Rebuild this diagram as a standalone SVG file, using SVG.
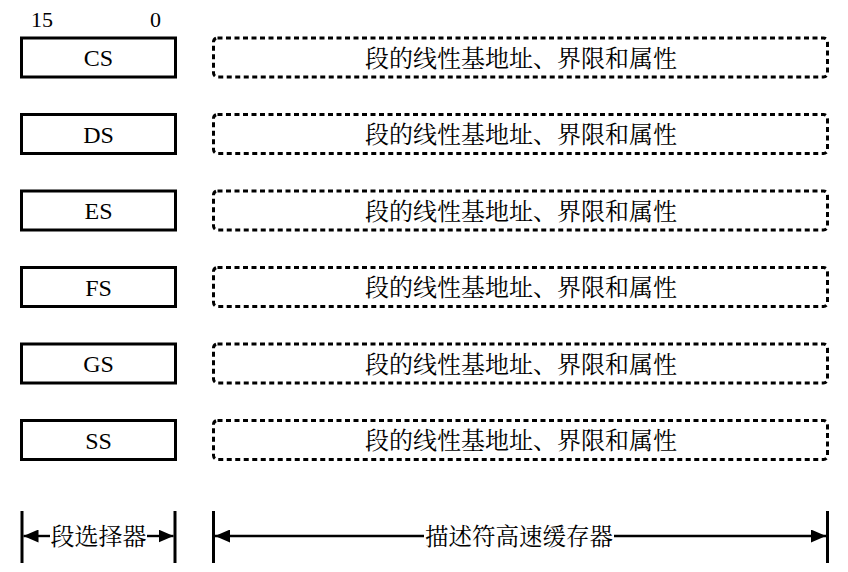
<svg xmlns="http://www.w3.org/2000/svg" width="848" height="572" viewBox="0 0 848 572">
<style>
.reg{fill:#fff;stroke:#000;stroke-width:3}
.desc{fill:#fff;stroke:#000;stroke-width:3;stroke-dasharray:5 3.5}
.lt{font-family:"Liberation Serif","Noto Serif CJK SC","Noto Sans CJK SC",serif;font-size:24px;fill:#000;text-anchor:middle}
.ct{font-family:"Noto Serif CJK SC","Noto Sans CJK SC",serif;font-size:24px;fill:#000;text-anchor:middle}
.cb{font-family:"Noto Serif CJK SC","Noto Sans CJK SC",serif;font-size:23.5px;fill:#000;text-anchor:middle}
.num{font-family:"Liberation Serif",serif;font-size:22px;fill:#000}
.bar{stroke:#000;stroke-width:3}
.ln{stroke:#000;stroke-width:2.4;fill:none}
</style>
<defs>
<marker id="ah" viewBox="0 0 15 13" refX="15" refY="6.5" markerWidth="15" markerHeight="13" markerUnits="userSpaceOnUse" orient="auto">
<path d="M0,0 L15,6.5 L0,13 Z" fill="#000"/>
</marker>
</defs>
<text class="num" x="31" y="27">15</text>
<text class="num" x="150" y="27">0</text>
<g id="cs"><rect class="reg" x="21.5" y="38" width="154" height="39"/><text class="lt" x="98.5" y="66">CS</text></g>
<g id="cs-desc"><rect class="desc" x="213.5" y="38" width="614" height="39" rx="4"/><text class="ct" x="521" y="66.5">段的线性基地址、界限和属性</text></g>
<g id="ds"><rect class="reg" x="21.5" y="114.5" width="154" height="39"/><text class="lt" x="98.5" y="142.5">DS</text></g>
<g id="ds-desc"><rect class="desc" x="213.5" y="114.5" width="614" height="39" rx="4"/><text class="ct" x="521" y="143">段的线性基地址、界限和属性</text></g>
<g id="es"><rect class="reg" x="21.5" y="191" width="154" height="39"/><text class="lt" x="98.5" y="219">ES</text></g>
<g id="es-desc"><rect class="desc" x="213.5" y="191" width="614" height="39" rx="4"/><text class="ct" x="521" y="219.5">段的线性基地址、界限和属性</text></g>
<g id="fs"><rect class="reg" x="21.5" y="267.5" width="154" height="39"/><text class="lt" x="98.5" y="295.5">FS</text></g>
<g id="fs-desc"><rect class="desc" x="213.5" y="267.5" width="614" height="39" rx="4"/><text class="ct" x="521" y="296">段的线性基地址、界限和属性</text></g>
<g id="gs"><rect class="reg" x="21.5" y="344" width="154" height="39"/><text class="lt" x="98.5" y="372">GS</text></g>
<g id="gs-desc"><rect class="desc" x="213.5" y="344" width="614" height="39" rx="4"/><text class="ct" x="521" y="372.5">段的线性基地址、界限和属性</text></g>
<g id="ss"><rect class="reg" x="21.5" y="420.5" width="154" height="39"/><text class="lt" x="98.5" y="448.5">SS</text></g>
<g id="ss-desc"><rect class="desc" x="213.5" y="420.5" width="614" height="39" rx="4"/><text class="ct" x="521" y="449">段的线性基地址、界限和属性</text></g>
<g id="connectors">
<line class="bar" x1="22" y1="511" x2="22" y2="563"/>
<line class="bar" x1="175" y1="511" x2="175" y2="563"/>
<line class="bar" x1="213.5" y1="511" x2="213.5" y2="563"/>
<line class="bar" x1="827.5" y1="511" x2="827.5" y2="563"/>
<line class="ln" x1="50" y1="536" x2="23.5" y2="536" marker-end="url(#ah)"/>
<line class="ln" x1="147" y1="536" x2="173.5" y2="536" marker-end="url(#ah)"/>
<line class="ln" x1="424" y1="536" x2="215" y2="536" marker-end="url(#ah)"/>
<line class="ln" x1="614" y1="536" x2="826" y2="536" marker-end="url(#ah)"/>
</g>
<g id="label-selector"><text class="ct" x="98.5" y="545">段选择器</text></g>
<g id="label-cache"><text class="cb" x="519" y="545">描述符高速缓存器</text></g>
</svg>
